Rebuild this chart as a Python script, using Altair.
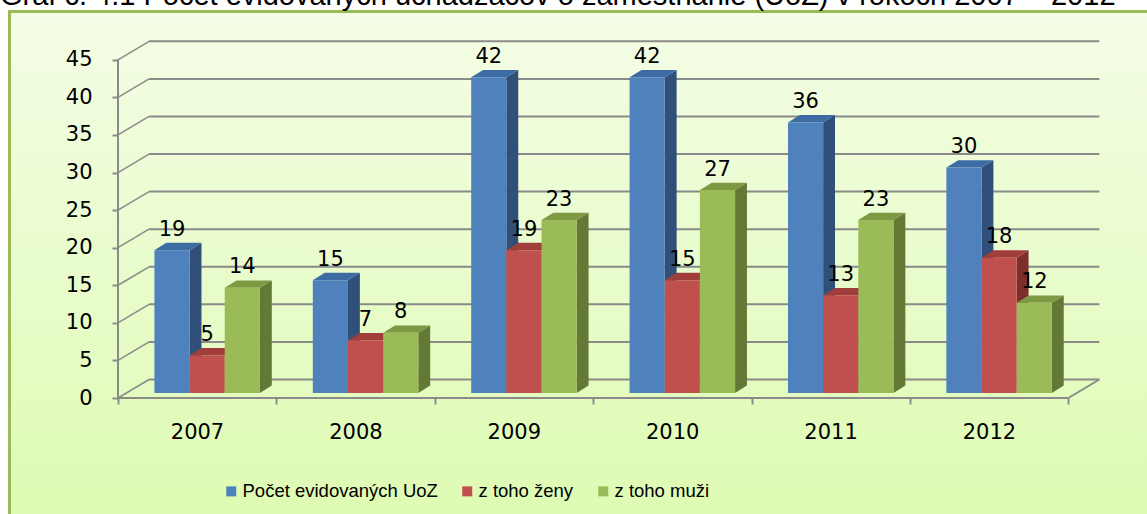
import altair as alt
import pandas as pd

# ---------------- data ----------------
years = ["2007", "2008", "2009", "2010", "2011", "2012"]
series = ["Počet evidovaných UoZ", "z toho ženy", "z toho muži"]
total = [19, 15, 42, 42, 36, 30]
women = [5, 7, 19, 15, 13, 18]
men = [14, 8, 23, 27, 23, 12]
y_ticks = [0, 5, 10, 15, 20, 25, 30, 35, 40, 45]
title_text = "Graf č. 4.1 Počet evidovaných uchádzačov o zamestnanie (UoZ) v rokoch 2007 – 2012"

# ---------------- style ----------------
front_colors = ["#4F81BD", "#C0504D", "#9BBB59"]
side_colors = ["#30507A", "#7D2E2C", "#647936"]
top_colors = ["#3D6BA3", "#A03E3C", "#7D9A42"]
grid_color = "#8A8A8A"
NUM_FONT = "DejaVu Sans"
TXT_FONT = "Liberation Sans"

W, H = 982, 357
X_MAX, Y_MAX = 6.2, 47.5
WALL_DX, WALL_DY = 0.196, 2.46      # depth of the 3-D back wall (data units)
BAR_X0, BAR_W = 0.23, 0.222         # bar placement inside a category
BASE = 0.67                         # bars stand slightly behind the front edge
BAR_DX, BAR_DY = 0.075, 0.98        # depth of each 3-D bar

values = [total, women, men]

front_rows, side_rows, top_rows = [], [], []
for s, (name, vals) in enumerate(zip(series, values)):
    for i, (yr, v) in enumerate(zip(years, vals)):
        x = i + BAR_X0 + s * BAR_W
        x2 = x + BAR_W
        bid = f"b{s}{i}"
        front_rows.append(dict(series=name, year=yr, value=v, x=x, x2=x2,
                               y=BASE, y2=BASE + v, lx=x + BAR_W / 2,
                               ly=BASE + v + BAR_DY, label=str(v)))
        side_rows.append(dict(id=bid, c=side_colors[s], x=x2, y=BASE, y2=BASE + v))
        side_rows.append(dict(id=bid, c=side_colors[s], x=x2 + BAR_DX,
                              y=BASE + BAR_DY, y2=BASE + v + BAR_DY))
        top_rows.append(dict(id=bid, c=top_colors[s], y=BASE + v, x=x, x2=x2))
        top_rows.append(dict(id=bid, c=top_colors[s], y=BASE + v + BAR_DY,
                             x=x + BAR_DX, x2=x2 + BAR_DX))

front = pd.DataFrame(front_rows)
side = pd.DataFrame(side_rows)
top = pd.DataFrame(top_rows)

n_cat = len(years)
wall = pd.DataFrame([dict(x=WALL_DX, x2=n_cat + WALL_DX, y=t + WALL_DY, y2=t + WALL_DY) for t in y_ticks])
diag = pd.DataFrame([dict(x=0, x2=WALL_DX, y=t, y2=t + WALL_DY) for t in y_ticks])
floor = pd.DataFrame([
    dict(x=0, x2=n_cat, y=0, y2=0),
    dict(x=n_cat, x2=n_cat + WALL_DX, y=0, y2=WALL_DY),
    dict(x=0, x2=0, y=0, y2=y_ticks[-1]),
])

# ---------------- scales / axes ----------------
xs = alt.Scale(domain=[0, X_MAX], nice=False, zero=False)
ys = alt.Scale(domain=[0, Y_MAX], nice=False, zero=False)

label_expr = "[" + ",".join(f"'{y}'" for y in years) + "][datum.value] || ''"
x_axis = alt.Axis(values=list(range(n_cat + 1)), labelExpr=label_expr, labelOffset=79,
                  labelFlush=False, labelOverlap=False, labelBound=False,
                  domain=False, grid=False, ticks=True, tickSize=6, tickWidth=2,
                  tickColor=grid_color, labelFont=NUM_FONT, labelFontSize=21,
                  labelColor="black", labelPadding=17, labelBaseline="top", title=None,
                  zindex=1)
y_axis = alt.Axis(values=y_ticks, domain=False, grid=False, tickSize=6, tickWidth=2,
                  tickColor=grid_color, labelFont=NUM_FONT, labelFontSize=21,
                  labelColor="black", labelPadding=20, title=None, zindex=1)


def X(f):
    return alt.X(f, type="quantitative", scale=xs, axis=x_axis, stack=None)


def Y(f):
    return alt.Y(f, type="quantitative", scale=ys, axis=y_axis, stack=None)


# ---------------- layers ----------------
frame = alt.Chart(pd.DataFrame({"a": [0]})).mark_rect(
    fill=alt.Gradient(gradient="linear", x1=0, x2=0, y1=0, y2=1,
                      stops=[alt.GradientStop(color="#F4FDE6", offset=0),
                             alt.GradientStop(color="#DDFBB0", offset=1)]),
    stroke="#9BBB59", strokeWidth=3
).encode(x=alt.value(-108.5), x2=alt.value(W + 60), y=alt.value(-29.5), y2=alt.value(H + 140))

title_l = alt.Chart(pd.DataFrame({"t": [title_text]})).mark_text(
    font=TXT_FONT, fontSize=29, color="black", align="left", baseline="alphabetic"
).encode(x=alt.value(-118), y=alt.value(-36.5), text="t:N")

wall_l = alt.Chart(wall).mark_rule(color=grid_color, strokeWidth=2).encode(
    x=X("x"), x2="x2", y=Y("y"), y2="y2")
diag_l = alt.Chart(diag).mark_rule(color=grid_color, strokeWidth=1.5).encode(
    x=X("x"), x2="x2", y=Y("y"), y2="y2")
floor_l = alt.Chart(floor).mark_rule(color=grid_color, strokeWidth=2).encode(
    x=X("x"), x2="x2", y=Y("y"), y2="y2")

side_l = alt.Chart(side).mark_area(orient="vertical", interpolate="linear").encode(
    x=X("x"), y=Y("y"), y2="y2", detail="id:N",
    fill=alt.Fill("c:N", scale=None))
top_l = alt.Chart(top).mark_area(orient="horizontal", interpolate="linear").encode(
    y=Y("y"), x=X("x"), x2="x2", detail="id:N",
    fill=alt.Fill("c:N", scale=None))

front_l = alt.Chart(front).mark_rect().encode(
    x=X("x"), x2="x2", y=Y("y"), y2="y2",
    color=alt.Color("series:N", scale=alt.Scale(domain=series, range=front_colors),
                    legend=alt.Legend(orient="none", legendX=104, legendY=441,
                                      direction="horizontal", title=None,
                                      symbolType="square", symbolSize=100,
                                      symbolStrokeWidth=0, labelFont=TXT_FONT,
                                      labelFontSize=18.5, labelColor="black",
                                      labelLimit=400, labelOffset=2,
                                      columnPadding=20, padding=0)))

labels_l = alt.Chart(front).mark_text(font=NUM_FONT, fontSize=21, color="black",
                                      baseline="alphabetic", dy=-7).encode(
    x=X("lx"), y=Y("ly"), text="label:N")

chart = alt.layer(frame, title_l, wall_l, diag_l, floor_l, side_l, top_l, front_l, labels_l).resolve_scale(
    color="independent", fill="independent"
).properties(
    width=W, height=H,
    autosize=alt.AutoSizeParams(type="none"),
    padding={"left": 118, "top": 41, "right": 1147 - 118 - W, "bottom": 514 - 41 - H},
).configure_view(stroke=None)

chart.save("out.html", embed_options={"renderer": "svg", "actions": False})
